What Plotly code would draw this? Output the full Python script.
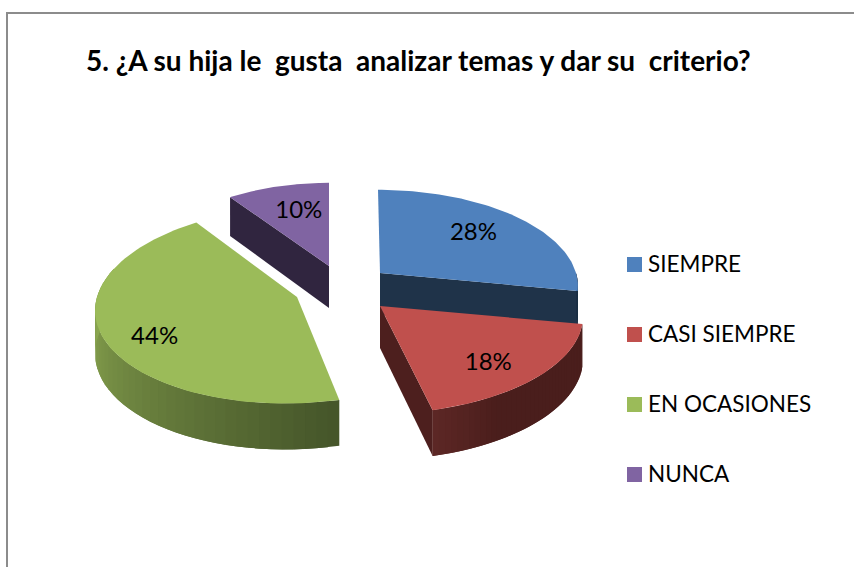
import numpy as np
import plotly.graph_objects as go

# ---- data ----
categories = ["SIEMPRE", "CASI SIEMPRE", "EN OCASIONES", "NUNCA"]
values = [28, 18, 44, 10]
title_text = "5. ¿A su hija le \u00a0gusta \u00a0analizar temas y dar su \u00a0criterio?"

# ---- style ----
top_colors = ["#4f81bd", "#c0504d", "#9bbb59", "#8064a2"]
cut_colors = ["#1f3349", "#4d1f1e", "#46562a", "#30253f"]

# ---- 3-D projection of the exploded pie (style geometry) ----
apex = [(380, 273), (380, 306), (297, 297), (329, 266)]
radius_x = [196, 202, 200, 186]
radius_y = [94, 94, 98, 94]
shear = [2, -5, -12, 0]
persp = [0.13, 0.13, 0.08, 0.13]
label_frac = [(0.67, 0.70), (0.67, 0.815), (0.76, 0.95), (0.59, 0.68)]


def project(i, theta):
    y_f = -np.cos(theta)
    s = 1 / (1 - persp[i] * y_f)
    x = apex[i][0] + radius_x[i] * np.sin(theta) * s + shear[i] * y_f
    y = apex[i][1] + radius_y[i] * y_f * s
    return x, y


def depth(theta):
    return 42 + 4 * (-np.cos(theta))


def hex_rgb(c):
    return np.array([int(c[k:k + 2], 16) for k in (1, 3, 5)], float)


def mix(c1, c2, t):
    a = hex_rgb(c1) * (1 - t) + hex_rgb(c2) * t
    return "rgb(%d,%d,%d)" % tuple(a)


def wall_color(i, theta, a0, a1):
    """Shading of the outer wall: depends on where the strip lies on the slice."""
    if i == 1:
        t = (a1 - theta) / (a1 - a0)
        return mix("#5e2826", "#4a1e1c", min(t / 0.3, 1))
    if i == 2:
        t = (theta - a0) / (1.5 * np.pi - a0)
        return mix("#46562a", "#8aa650", min(max(t, 0), 1))
    return cut_colors[i]


total = sum(values)
edges = np.cumsum([0] + values) / total * 2 * np.pi
fig = go.Figure()


def poly(xs, ys, color):
    fig.add_trace(go.Scatter(
        x=list(xs), y=list(ys), mode="lines", fill="toself", fillcolor=color,
        line=dict(color=color, width=0), hoverinfo="skip", showlegend=False))


def draw_slice(i):
    a0, a1 = edges[i], edges[i + 1]
    ax, ay = apex[i]
    # cut face turned towards the viewer
    cut = {0: a1, 1: a1, 3: a0}.get(i)
    if cut is not None:
        ex, ey = project(i, cut)
        poly([ax, ex, ex, ax], [ay, ey, ey + depth(cut), ay + 42], cut_colors[i])
    # outer wall (only the front half shows), as overlapping shaded strips
    lo, hi = max(a0, np.pi / 2), min(a1, 1.5 * np.pi + 0.3)
    if hi > lo:
        n = 40
        th = np.linspace(lo, hi, n + 1)
        for k in range(n):
            end = min(k + 2, n)
            seg = np.linspace(th[k], th[end], 4)
            x, y = project(i, seg)
            poly([*x, *x[::-1]],
                 [*y, *(y + depth(seg))[::-1]],
                 wall_color(i, th[k], a0, a1))
    # top face
    th = np.linspace(a0, a1, 80)
    xs, ys = project(i, th)
    poly([ax, *xs, ax], [ay, *ys, ay], top_colors[i])


for i in (3, 0, 2, 1):
    draw_slice(i)

# percentage labels
lx, ly = [], []
for i in range(len(values)):
    mid = (edges[i] + edges[i + 1]) / 2
    y_f = -np.cos(mid)
    s = 1 / (1 - persp[i] * y_f)
    lx.append(apex[i][0] + label_frac[i][0] * radius_x[i] * np.sin(mid) * s)
    ly.append(apex[i][1] + label_frac[i][1] * radius_y[i] * y_f * s)
fig.add_trace(go.Scatter(
    x=lx, y=ly, mode="text", text=[f"{v}%" for v in values], textposition="middle center",
    textfont=dict(family="Lato", size=24, color="#000000"),
    hoverinfo="skip", showlegend=False))

# legend: swatches and labels
legend_y = [264.5, 334.5, 404.5, 474.5]
shapes = [dict(type="path", path="M 7 567 L 7 13 L 854 13", line=dict(color="#8c8c8c", width=2),
               xref="x", yref="y", layer="below")]
annotations = []
for name, col, ly_ in zip(categories, top_colors, legend_y):
    shapes.append(dict(type="rect", x0=627, x1=642, y0=ly_ - 7.5, y1=ly_ + 7.5,
                       xref="x", yref="y", fillcolor=col, line=dict(width=0)))
    annotations.append(dict(x=648, y=ly_, xref="x", yref="y", text=name, showarrow=False,
                            xanchor="left", yanchor="middle", xshift=-2, yshift=1,
                            font=dict(family="Lato", size=22.5, color="#000000")))

fig.update_layout(
    width=854, height=567, margin=dict(l=0, r=0, t=0, b=0),
    paper_bgcolor="#ffffff", plot_bgcolor="#ffffff", showlegend=False,
    title=dict(text=f"<b>{title_text}</b>", x=86 / 854, xanchor="left", y=1 - 61 / 567,
               yanchor="middle", font=dict(family="Lato", size=28, color="#000000")),
    xaxis=dict(range=[0, 854], visible=False, fixedrange=True),
    yaxis=dict(range=[567, 0], visible=False, fixedrange=True),
    shapes=shapes, annotations=annotations,
)

fig.write_html("out.html", config={"displayModeBar": False},
               post_script="document.body.style.margin='0';document.body.style.overflow='hidden';")
